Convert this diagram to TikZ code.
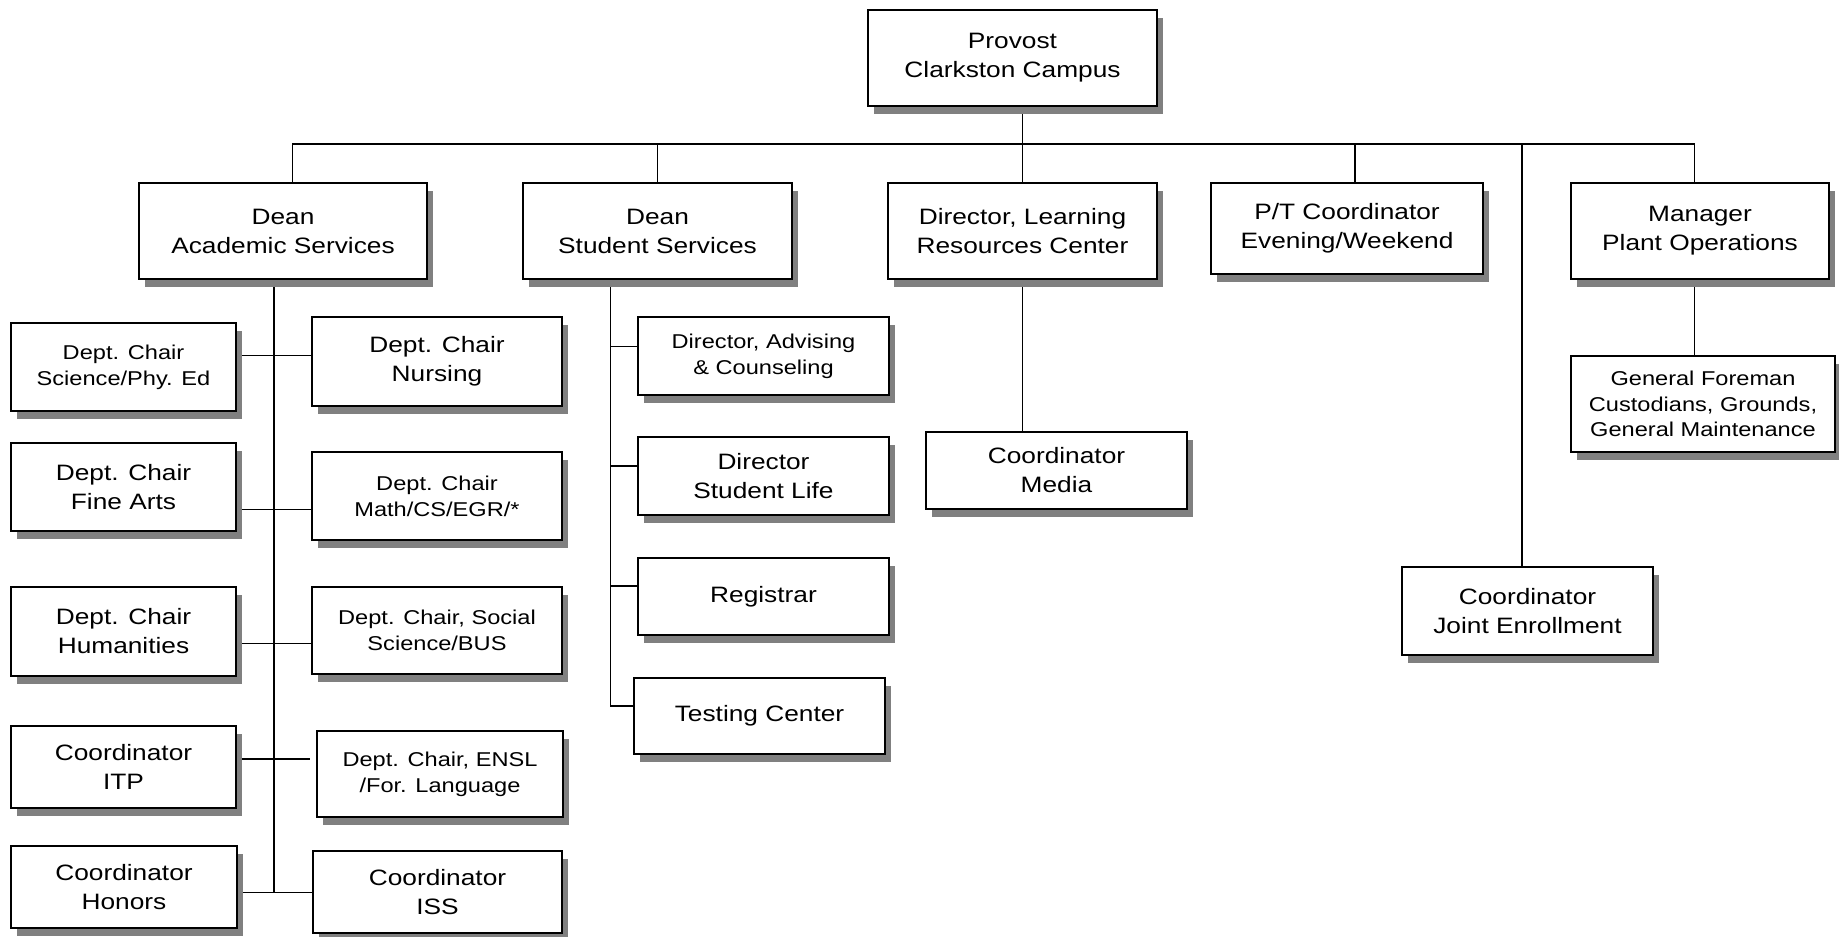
\documentclass[tikz,border=0pt]{standalone}
\usepackage{fontspec}
\newfontfamily\orgfont{Liberation Sans}[FakeStretch=1.18]
\usetikzlibrary{shadows,backgrounds}
\tikzset{
  box/.style={draw, line width=1.4pt, fill=white, inner sep=0pt, align=center,
    drop shadow={shadow xshift=4.5pt, shadow yshift=-6pt, fill=black!50, opacity=1}},
  bigtxt/.style={font=\orgfont\fontsize{16.7pt}{21.75pt}\selectfont},
  smalltxt/.style={font=\orgfont\fontsize{15pt}{19.3pt}\selectfont},
  conn/.style={line width=1pt, line cap=rect},
}
\newcommand{\orgbox}[7]{%
  \pgfmathsetmacro\obw{(#4-#2)*0.75}%
  \pgfmathsetmacro\obh{(#5-#3)*0.75}%
  \node[box,#6,minimum width=\obw pt,minimum height=\obh pt] (#1) at ({(#2+#4)/2},{(#3+#5)/2}) {#7};}
\begin{document}
\begin{tikzpicture}[x=0.75pt,y=-0.75pt]
\useasboundingbox (0,0) rectangle (1839,937);
% top level
\orgbox{provost}{868}{10}{1157}{106}{bigtxt}{Provost\\Clarkston Campus}
\orgbox{deanA}{139}{183}{427}{279}{bigtxt}{Dean\\Academic Services}
\orgbox{deanS}{523}{183}{792}{279}{bigtxt}{Dean\\Student Services}
\orgbox{lrc}{888}{183}{1157}{279}{bigtxt}{Director, Learning\\Resources Center}
\orgbox{pt}{1211}{183}{1483}{274}{bigtxt}{P/T Coordinator\\Evening/Weekend}
\orgbox{mgr}{1571}{183}{1829}{279}{bigtxt}{Manager\\Plant Operations}
% academic services
\orgbox{sci}{11}{323}{236}{411}{smalltxt}{Dept. Chair\\Science/Phy. Ed}
\orgbox{nurs}{312}{317}{562}{406}{bigtxt}{Dept. Chair\\Nursing}
\orgbox{fine}{11}{443}{236}{531}{bigtxt}{Dept. Chair\\Fine Arts}
\orgbox{math}{312}{452}{562}{540}{smalltxt}{Dept. Chair\\Math/CS/EGR/*}
\orgbox{hum}{11}{587}{236}{676}{bigtxt}{Dept. Chair\\Humanities}
\orgbox{soc}{312}{587}{562}{674}{smalltxt}{Dept. Chair, Social\\Science/BUS}
\orgbox{itp}{11}{726}{236}{808}{bigtxt}{Coordinator\\ITP}
\orgbox{ensl}{317}{731}{563}{817}{smalltxt}{Dept. Chair, ENSL\\/For. Language}
\orgbox{hon}{11}{846}{237}{928}{bigtxt}{Coordinator\\Honors}
\orgbox{iss}{313}{851}{562}{933}{bigtxt}{Coordinator\\ISS}
% student services
\orgbox{adv}{638}{317}{889}{395}{smalltxt}{Director, Advising\\\& Counseling}
\orgbox{life}{638}{437}{889}{515}{bigtxt}{Director\\Student Life}
\orgbox{reg}{638}{558}{889}{635}{bigtxt}{Registrar}
\orgbox{test}{634}{678}{885}{754}{bigtxt}{Testing Center}
% others
\orgbox{media}{926}{432}{1187}{509}{bigtxt}{Coordinator\\Media}
\orgbox{joint}{1402}{567}{1653}{655}{bigtxt}{Coordinator\\Joint Enrollment}
\orgbox{gf}{1571}{356}{1835}{452}{smalltxt}{General Foreman\\Custodians, Grounds,\\General Maintenance}
% connectors
\begin{scope}[on background layer]
  \coordinate (bL) at (292.7,144);
  \coordinate (bS) at (657.3,144);
  \coordinate (bP) at (1022.3,144);
  \coordinate (bT) at (1355,144);
  \coordinate (bJ) at (1522,144);
  \coordinate (bR) at (1694.3,144);
  \draw[conn] (bL) -- (bR);
  \draw[conn] (provost.south -| bP) -- (bP);
  \draw[conn] (bL) -- (bL |- deanA.north);
  \draw[conn] (bS) -- (bS |- deanS.north);
  \draw[conn] (bP) -- (bP |- lrc.north);
  \draw[conn] (bT) -- (bT |- pt.north);
  \draw[conn] (bJ) -- (bJ |- joint.north);
  \draw[conn] (bR) -- (bR |- mgr.north);
  \draw[conn] (bP |- lrc.south) -- (bP |- media.north);
  \draw[conn] (bR |- mgr.south) -- (bR |- gf.north);
  % academic stem
  \coordinate (jA1) at (274,355.7);
  \coordinate (jA2) at (274,509.3);
  \coordinate (jA3) at (274,643.7);
  \coordinate (jA4) at (274,759);
  \coordinate (jA5) at (274,892.3);
  \draw[conn] (jA1 |- deanA.south) -- (jA5);
  \draw[conn] (sci.east |- jA1) -- (nurs.west |- jA1);
  \draw[conn] (fine.east |- jA2) -- (math.west |- jA2);
  \draw[conn] (hum.east |- jA3) -- (soc.west |- jA3);
  \draw[conn, shorten >=5pt] (itp.east |- jA4) -- (ensl.west |- jA4);
  \draw[conn] (hon.east |- jA5) -- (iss.west |- jA5);
  % student stem
  \coordinate (jS1) at (610.7,346.7);
  \coordinate (jS2) at (610.7,466);
  \coordinate (jS3) at (610.7,586);
  \coordinate (jS4) at (610.7,706);
  \draw[conn] (jS1 |- deanS.south) -- (jS4);
  \draw[conn] (jS1) -- (adv.west |- jS1);
  \draw[conn] (jS2) -- (life.west |- jS2);
  \draw[conn] (jS3) -- (reg.west |- jS3);
  \draw[conn] (jS4) -- (test.west |- jS4);
\end{scope}
\end{tikzpicture}
\end{document}
